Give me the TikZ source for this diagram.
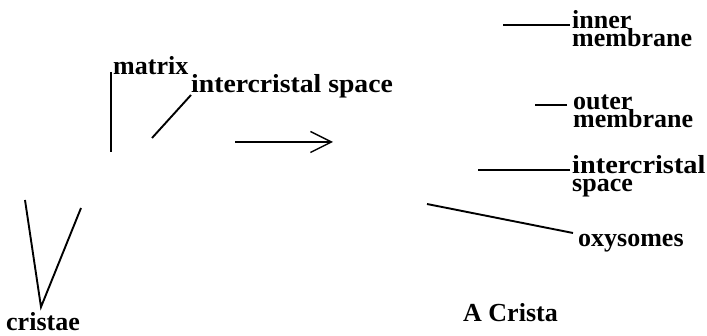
\documentclass[tikz,border=0pt]{standalone}
\usepackage{fontspec}
\setmainfont{Liberation Serif}
\usetikzlibrary{arrows.meta}
\tikzset{
  lbl/.style={inner sep=0pt, anchor=base west, font=\bfseries\fontsize{26}{18.5}\selectfont, align=left},
  ln/.style={line width=1.9pt},
  arr/.style={line width=1.4pt, -{Straight Barb[length=21pt,width=21pt,line width=1.4pt]}}
}
\begin{document}
\begin{tikzpicture}[x=1pt,y=-1pt]
\useasboundingbox (0,0) rectangle (707,336);
% labels (multi-line labels are anchored at their last line's baseline)
\node[lbl] (matrix) at (113,75) {matrix};
\node[lbl] (ics1) at (191,93) {\scalebox{1.065}[1]{intercristal space}};
\node[lbl] (inner) at (572,47) {inner\\membrane};
\node[lbl] (outer) at (573,128) {outer\\membrane};
\node[lbl] (ics2) at (572,192) {\scalebox{1.09}[1]{intercristal}\\space};
\node[lbl] (oxy) at (578,247) {oxysomes};
\node[lbl] (crista) at (463,322) {A Crista};
\node[lbl] (cristae) at (6,331) {cristae};
% connector coordinates
\coordinate (mA) at (111,72);
\coordinate (mB) at (111,152);
\coordinate (iA) at (191,95);
\coordinate (iB) at (152,138);
\coordinate (arA) at (235,142);
\coordinate (arB) at (333,142);
\coordinate (inA) at (570,25);
\coordinate (inB) at (503,25);
\coordinate (ouA) at (567,105);
\coordinate (ouB) at (535,105);
\coordinate (icA) at (570,170);
\coordinate (icB) at (478,170);
\coordinate (oxA) at (573,233);
\coordinate (oxB) at (427,204);
\coordinate (apex) at (41,307);
\coordinate (cL) at (25,200);
\coordinate (cR) at (81,208);
% connectors
\draw[ln] (mA) -- (mB);
\draw[ln] (iA) -- (iB);
\draw[arr] (arA) -- (arB);
\draw[ln] (inA) -- (inB);
\draw[ln] (ouA) -- (ouB);
\draw[ln] (icA) -- (icB);
\draw[ln] (oxA) -- (oxB);
\draw[ln] (cL) -- (apex) -- (cR);
\end{tikzpicture}
\end{document}
